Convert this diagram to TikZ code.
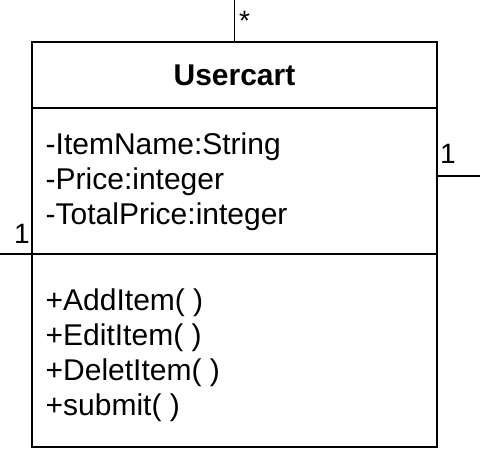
\documentclass[tikz,border=0pt]{standalone}
\usepackage{fontspec}
\setmainfont{Liberation Sans}
\usetikzlibrary{positioning}
\tikzset{
  compart/.style={rectangle, draw=black, line width=1.8pt, minimum width=405pt, inner sep=0pt, outer sep=0pt},
  members/.style={font=\fontsize{30}{35}\selectfont, align=left, inner sep=0pt, anchor=north west},
  mult/.style={font=\fontsize{28}{32}\selectfont, inner sep=0pt, anchor=base west},
  assoc/.style={line width=1.8pt, black},
}

\begin{document}
\begin{tikzpicture}[x=1pt, y=-1pt]
\useasboundingbox (0,0) rectangle (480,472);

% Class compartments
\node[compart, minimum height=66pt, font=\bfseries\fontsize{30}{35}\selectfont] (head) at (234.5,75) {Usercart};
\node[compart, minimum height=146pt, below=0pt of head] (attrs) {};
\node[compart, minimum height=193pt, below=0pt of attrs] (ops) {};

% Members
\node[members] (attrtext) at ([xshift=13.5pt, yshift=-25pt]attrs.north west) {-ItemName:String\\-Price:integer\\-TotalPrice:integer};
\node[members] (optext) at ([xshift=13.5pt, yshift=-35pt]ops.north west) {+AddItem( )\\+EditItem( )\\+DeletItem( )\\+submit( )};

% Associations
\coordinate (topend) at (234.5,0);
\coordinate (rightend) at (480,176);
\coordinate (leftend) at (0,254);
\draw[assoc] (head.north) -- (topend);
\draw[assoc] (attrs.east |- rightend) -- (rightend);
\draw[assoc] (ops.north west) -- (leftend);

% Multiplicities
\node[mult] (topmult) at (239,30) {*};
\node[mult] (rightmult) at (440,163) {1};
\node[mult] (leftmult) at (14,243) {1};

\end{tikzpicture}
\end{document}
